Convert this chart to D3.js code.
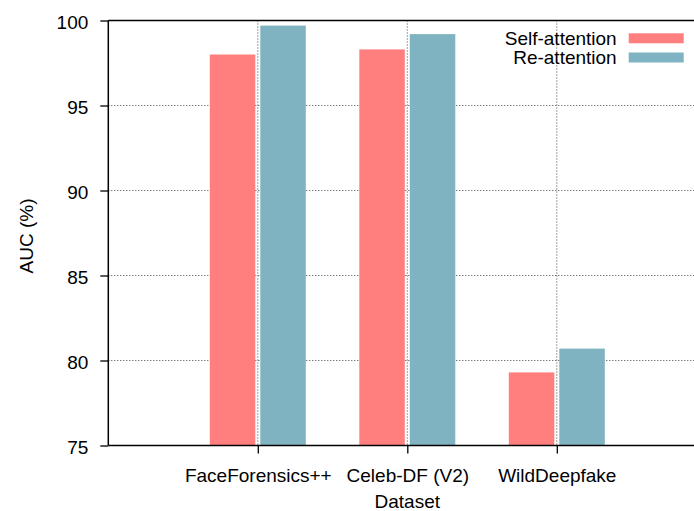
<!DOCTYPE html>
<html><head><meta charset="utf-8">
<script src="https://cdn.jsdelivr.net/npm/d3@7"></script>
<style>body{margin:0;background:#fff}svg{display:block}text{font-family:"Liberation Sans",Arial,sans-serif}</style>
</head><body><svg id="c" width="694" height="511"></svg>
<script>
const categories = ["FaceForensics++", "Celeb-DF (V2)", "WildDeepfake"];
const seriesNames = ["Self-attention", "Re-attention"];
const selfAttention = [98.0, 98.3, 79.3];
const reAttention = [99.7, 99.2, 80.7];
const yTicks = [75, 80, 85, 90, 95, 100];
const colors = ["#ff7f7f", "#7fb3c1"];

const FS = 19;
const svg = d3.select("#c");
const L = 108.3, T = 20.5, B = 445.5;
const unit = 149.5;
const x = d3.scaleLinear().domain([-1, 4]).range([L, L + 5 * unit]);
const y = d3.scaleLinear().domain([75, 100]).range([B, T]);
const R = 694;

const barW = 45.5, gap = 2.5;
const series = [selfAttention, reAttention];

const g = svg.append("g");
g.selectAll("line.hg").data(yTicks.filter(t => t > 75 && t < 100)).enter().append("line")
  .attr("x1", L).attr("x2", R).attr("y1", d => y(d)).attr("y2", d => y(d))
  .attr("stroke", "#444").attr("stroke-width", 1).attr("stroke-dasharray", "1,2");
g.selectAll("line.vg").data(categories).enter().append("line")
  .attr("x1", (d, i) => x(i)).attr("x2", (d, i) => x(i)).attr("y1", T).attr("y2", B)
  .attr("stroke", "#444").attr("stroke-width", 1).attr("stroke-dasharray", "1,2");

series.forEach((vals, s) => {
  svg.append("g").selectAll("rect").data(vals).enter().append("rect")
    .attr("x", (d, i) => s === 0 ? x(i) - gap - barW : x(i) + gap)
    .attr("width", barW)
    .attr("y", d => y(d)).attr("height", d => B - y(d))
    .attr("fill", colors[s]);
});

const yAxis = d3.axisLeft(y).tickValues(yTicks).tickSize(8).tickPadding(12);
const ya = svg.append("g").attr("transform", `translate(${L},0)`).call(yAxis);
ya.attr("font-size", null).attr("font-family", null);
ya.select(".domain").remove();
ya.selectAll("line").attr("stroke", "#000").attr("stroke-width", 1.3);
ya.selectAll("text").style("font-size", FS + "px").attr("fill", "#000").attr("dy", "0.4em").attr("x", -20);

const xAxis = d3.axisBottom(x).tickValues([0, 1, 2]).tickFormat(i => categories[i]).tickSize(8).tickPadding(14);
const xa = svg.append("g").attr("transform", `translate(0,${B})`).call(xAxis);
xa.attr("font-size", null).attr("font-family", null);
xa.select(".domain").remove();
xa.selectAll("line").attr("stroke", "#000").attr("stroke-width", 1.3);
xa.selectAll("text").style("font-size", FS + "px").attr("fill", "#000").attr("dy", null).attr("y", 36.5);

svg.append("line").attr("x1", L).attr("x2", L).attr("y1", T).attr("y2", B).attr("stroke", "#000").attr("stroke-width", 1.5);
svg.append("line").attr("x1", L).attr("x2", R).attr("y1", T).attr("y2", T).attr("stroke", "#000").attr("stroke-width", 1.5);
svg.append("line").attr("x1", L).attr("x2", R).attr("y1", B).attr("y2", B).attr("stroke", "#000").attr("stroke-width", 1.5);

svg.append("text").attr("x", x(1)).attr("y", 508).attr("text-anchor", "middle").style("font-size", FS + "px").text("Dataset");
svg.append("text").attr("transform", `translate(33,236) rotate(-90)`).attr("text-anchor", "middle").style("font-size", FS + "px").text("AUC (%)");

seriesNames.forEach((n, i) => {
  const cy = 38.3 + i * 19.2;
  svg.append("text").attr("x", 616.7).attr("y", cy + 6.5).attr("text-anchor", "end").style("font-size", FS + "px").text(n);
  svg.append("rect").attr("x", 628.7).attr("y", cy - 5).attr("width", 55).attr("height", 10).attr("fill", colors[i]);
});
</script></body></html>
